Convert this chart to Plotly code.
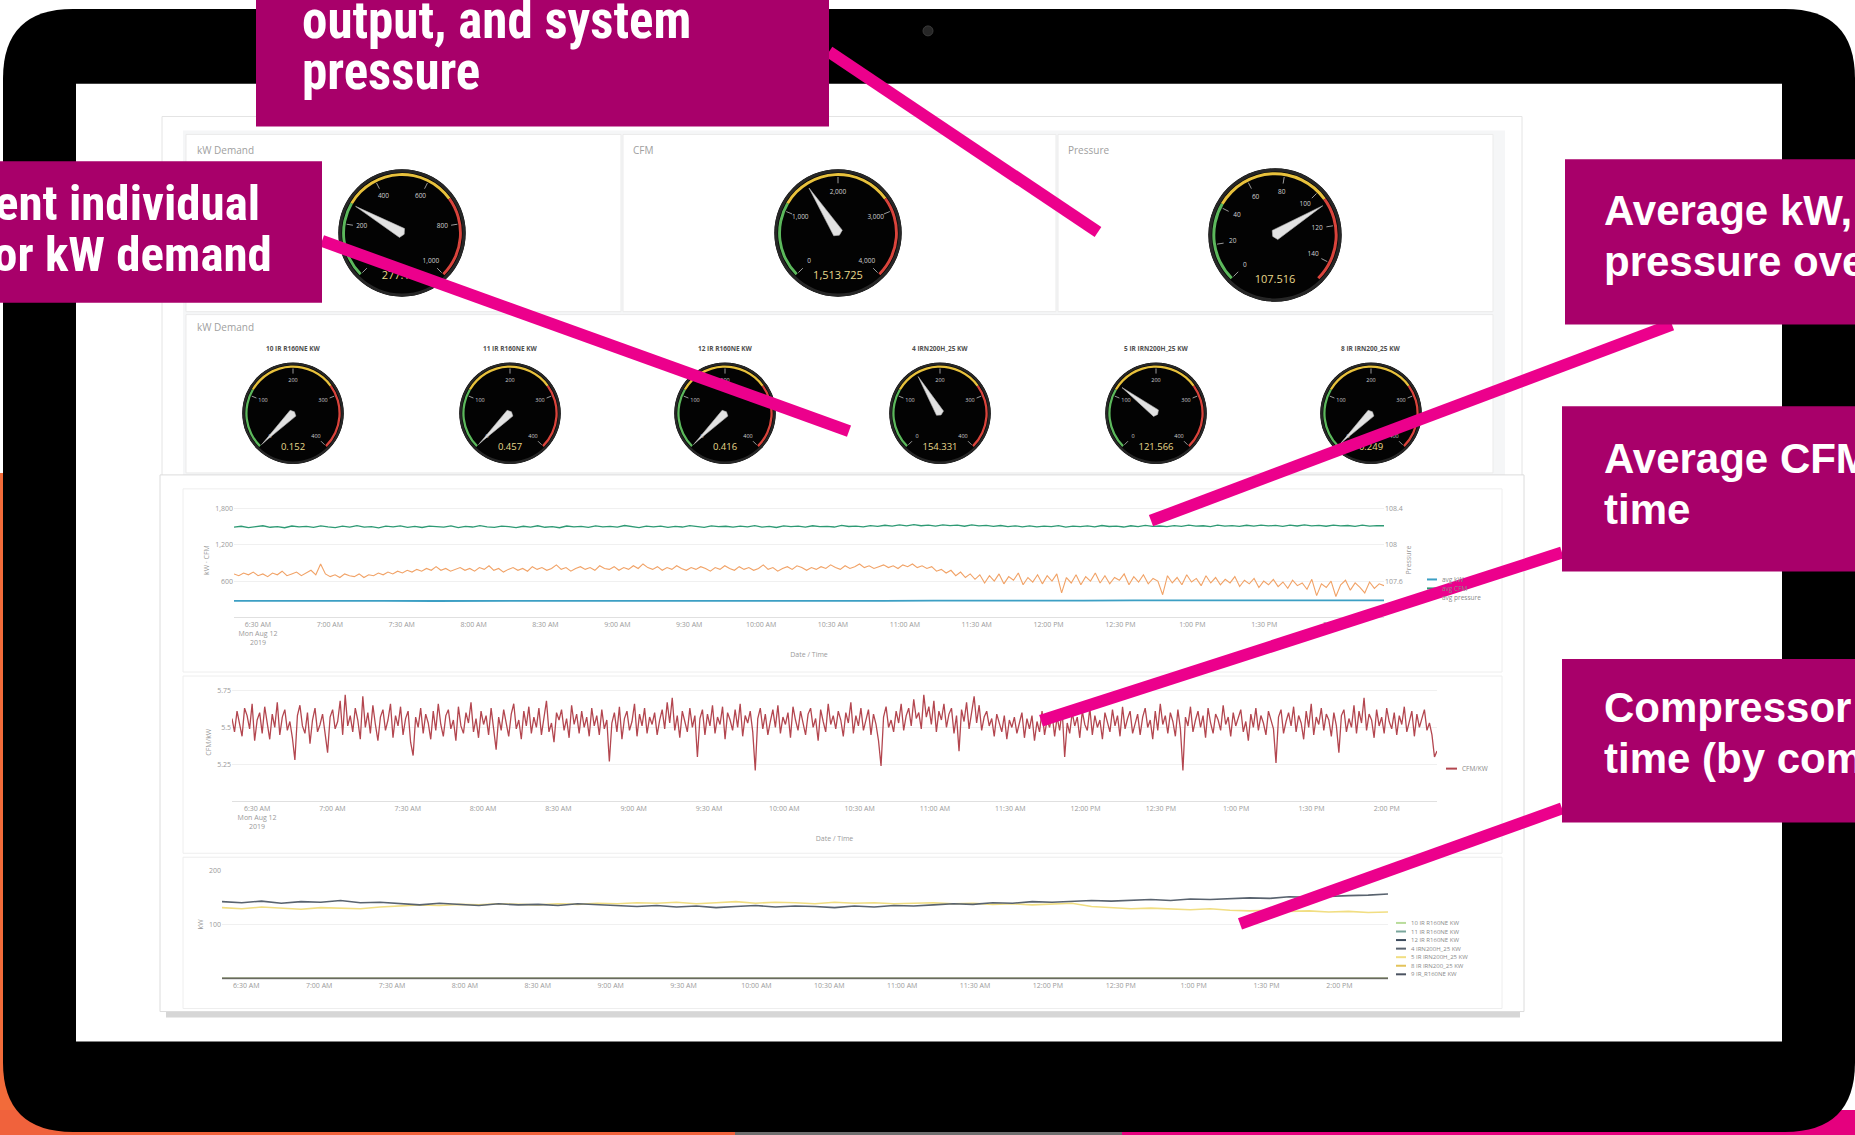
import pandas as pd
import plotly.graph_objects as go

W, H = 1855, 1135

# ---------------- data ----------------
BIG_GAUGE_TITLES = ["kW Demand", "CFM", "Pressure"]
BIG_GAUGE_VALUES = [277.171, 1513.725, 107.516]
BIG_GAUGE_MAX = [1000, 4000, 150]
BIG_GAUGE_TICKS = [[0, 200, 400, 600, 800, 1000],
                   [0, 1000, 2000, 3000, 4000],
                   [0, 20, 40, 60, 80, 100, 120, 140]]

SMALL_GAUGE_TITLES = ["10 IR R160NE KW", "11 IR R160NE KW", "12 IR R160NE KW",
                      "4 IRN200H_25 KW", "5 IR IRN200H_25 KW", "8 IR IRN200_25 KW"]
SMALL_GAUGE_VALUES = [0.152, 0.457, 0.416, 154.331, 121.566, 0.249]
SMALL_GAUGE_MAX = 400
SMALL_GAUGE_TICKS = [0, 100, 200, 300, 400]

GAUGE_BANDS = [(0.0, 0.28, "#5cb85c"), (0.28, 0.70, "#e8c13c"), (0.70, 1.0, "#d9443c")]

TIME_START = "2019-08-12 06:20"
TIME_END = "2019-08-12 14:20"
TICK_LABELS = ["6:30 AM", "7:00 AM", "7:30 AM", "8:00 AM", "8:30 AM", "9:00 AM", "9:30 AM",
               "10:00 AM", "10:30 AM", "11:00 AM", "11:30 AM", "12:00 PM", "12:30 PM",
               "1:00 PM", "1:30 PM", "2:00 PM"]
DATE_LINES = "Mon Aug 12<br>2019"

AVG_CFM = [
    1496, 1511, 1489, 1507, 1519, 1494, 1503, 1486, 1515, 1499,
    1508, 1491, 1517, 1501, 1488, 1512, 1496, 1522, 1497, 1505,
    1485, 1513, 1500, 1518, 1492, 1507, 1490, 1514, 1503, 1495,
    1516, 1487, 1509, 1498, 1521, 1500, 1492, 1513, 1504, 1489,
    1511, 1497, 1519, 1494, 1506, 1486, 1515, 1501, 1510, 1491,
    1518, 1499, 1508, 1495, 1523, 1502, 1488, 1514, 1499, 1512,
    1493, 1509, 1498, 1520, 1505, 1492, 1516, 1503, 1511, 1496,
    1514, 1500, 1522, 1497, 1508, 1490, 1517, 1504, 1512, 1495,
    1519, 1503, 1510, 1498, 1524, 1507, 1513, 1501, 1520, 1509,
    1527, 1512, 1533, 1516, 1538, 1519, 1530, 1514, 1535, 1521,
    1528, 1511, 1532, 1517, 1526, 1509, 1523, 1505, 1518, 1502,
    1516, 1499, 1513, 1504, 1521, 1496, 1512, 1506, 1517, 1501,
    1523, 1507, 1514, 1498, 1519, 1505, 1526, 1510, 1515, 1503,
    1521, 1508, 1528, 1512, 1519, 1504, 1530, 1514, 1522, 1509,
    1527, 1513, 1531, 1516, 1524, 1510, 1529, 1515, 1533, 1518,
    1525, 1511, 1530, 1517, 1523, 1509, 1528, 1514, 1521, 1519]

AVG_PRESSURE = [
    107.68, 107.66, 107.69, 107.67, 107.70, 107.66, 107.68, 107.65, 107.69, 107.67, 107.71, 107.66,
    107.68, 107.70, 107.66, 107.69, 107.72, 107.67, 107.79, 107.68, 107.65, 107.67, 107.64, 107.68,
    107.66, 107.65, 107.68, 107.64, 107.67, 107.66, 107.69, 107.67, 107.70, 107.68, 107.71, 107.69,
    107.72, 107.70, 107.73, 107.71, 107.74, 107.72, 107.76, 107.72, 107.74, 107.71, 107.73, 107.75,
    107.72, 107.74, 107.71, 107.75, 107.73, 107.77, 107.72, 107.74, 107.70, 107.73, 107.75, 107.72,
    107.74, 107.71, 107.76, 107.73, 107.75, 107.72, 107.74, 107.78, 107.73, 107.75, 107.71, 107.74,
    107.76, 107.73, 107.75, 107.72, 107.77, 107.74, 107.73, 107.76, 107.72, 107.75, 107.73, 107.77,
    107.74, 107.79, 107.75, 107.73, 107.76, 107.72, 107.75, 107.73, 107.77, 107.74, 107.72, 107.75,
    107.73, 107.76, 107.74, 107.71, 107.75, 107.73, 107.77, 107.74, 107.72, 107.76, 107.73, 107.75,
    107.72, 107.74, 107.78, 107.73, 107.75, 107.71, 107.74, 107.76, 107.73, 107.77, 107.75, 107.72,
    107.75, 107.73, 107.76, 107.74, 107.78, 107.75, 107.73, 107.77, 107.74, 107.76, 107.79, 107.75,
    107.77, 107.74, 107.76, 107.78, 107.75, 107.77, 107.74, 107.78, 107.76, 107.79, 107.75, 107.77,
    107.74, 107.76, 107.71, 107.73, 107.69, 107.72, 107.66, 107.70, 107.64, 107.68, 107.62, 107.67,
    107.58, 107.66, 107.60, 107.68, 107.57, 107.65, 107.61, 107.69, 107.56, 107.64, 107.59, 107.67,
    107.57, 107.66, 107.60, 107.68, 107.47, 107.64, 107.58, 107.67, 107.56, 107.65, 107.60, 107.69,
    107.58, 107.66, 107.57, 107.64, 107.61, 107.68, 107.56, 107.65, 107.59, 107.67, 107.57, 107.63,
    107.60, 107.45, 107.66, 107.58, 107.64, 107.56, 107.67, 107.59, 107.63, 107.55, 107.66, 107.58,
    107.64, 107.56, 107.62, 107.58, 107.65, 107.54, 107.61, 107.57, 107.63, 107.53, 107.60, 107.56,
    107.62, 107.54, 107.59, 107.52, 107.61, 107.55, 107.58, 107.51, 107.62, 107.44, 107.57, 107.53,
    107.60, 107.43, 107.56, 107.61, 107.50, 107.58, 107.53, 107.47, 107.59, 107.52, 107.57, 107.55]

AVG_KW = [272, 275, 271, 274, 270, 273, 272, 276, 271, 274, 273, 270,
          275, 272, 276, 274, 279, 277, 281, 279, 283, 280, 284, 282]

CFM_PER_KW = [
    5.56, 5.47, 5.61, 5.52, 5.44, 5.63, 5.58, 5.49, 5.66, 5.41, 5.55, 5.60,
    5.46, 5.64, 5.53, 5.42, 5.59, 5.50, 5.67, 5.45, 5.57, 5.62, 5.48, 5.54,
    5.43, 5.28, 5.58, 5.65, 5.51, 5.46, 5.60, 5.39, 5.55, 5.63, 5.47, 5.52,
    5.59, 5.44, 5.33, 5.57, 5.62, 5.49, 5.54, 5.68, 5.45, 5.72, 5.51, 5.58,
    5.47, 5.63, 5.55, 5.42, 5.71, 5.50, 5.60, 5.46, 5.65, 5.52, 5.41, 5.57,
    5.62, 5.48, 5.55, 5.66, 5.43, 5.58, 5.51, 5.64, 5.45, 5.56, 5.61, 5.40,
    5.31, 5.57, 5.50, 5.63, 5.46, 5.59, 5.53, 5.42, 5.61, 5.48, 5.66, 5.52,
    5.44, 5.58, 5.62, 5.49, 5.55, 5.41, 5.64, 5.51, 5.46, 5.60, 5.53, 5.67,
    5.47, 5.56, 5.43, 5.61, 5.52, 5.58, 5.45, 5.63, 5.50, 5.35, 5.57, 5.48,
    5.62, 5.54, 5.44, 5.59, 5.66, 5.49, 5.55, 5.42, 5.61, 5.51, 5.64, 5.46,
    5.57, 5.50, 5.63, 5.45, 5.58, 5.68, 5.47, 5.53, 5.40, 5.60, 5.55, 5.62,
    5.48, 5.56, 5.43, 5.65, 5.52, 5.59, 5.46, 5.61, 5.50, 5.57, 5.44, 5.63,
    5.51, 5.58, 5.45, 5.62, 5.49, 5.55, 5.27, 5.53, 5.60, 5.47, 5.64, 5.42,
    5.56, 5.61, 5.48, 5.54, 5.66, 5.44, 5.59, 5.51, 5.63, 5.46, 5.57, 5.52,
    5.60, 5.45, 5.55, 5.62, 5.49, 5.67, 5.53, 5.70, 5.48, 5.58, 5.43, 5.61,
    5.54, 5.47, 5.63, 5.50, 5.58, 5.30, 5.56, 5.62, 5.45, 5.59, 5.51, 5.65,
    5.46, 5.57, 5.52, 5.64, 5.42, 5.60, 5.55, 5.48, 5.62, 5.50, 5.66, 5.44,
    5.58, 5.53, 5.61, 5.47, 5.21, 5.56, 5.63, 5.49, 5.59, 5.45, 5.54, 5.62,
    5.50, 5.65, 5.46, 5.57, 5.52, 5.60, 5.43, 5.64, 5.55, 5.48, 5.61, 5.53,
    5.45, 5.59, 5.63, 5.50, 5.56, 5.41, 5.62, 5.54, 5.47, 5.66, 5.52, 5.58,
    5.49, 5.61, 5.55, 5.44, 5.60, 5.53, 5.67, 5.46, 5.58, 5.51, 5.63, 5.48,
    5.56, 5.62, 5.45, 5.59, 5.52, 5.41, 5.24, 5.57, 5.64, 5.50, 5.55, 5.47,
    5.61, 5.53, 5.66, 5.48, 5.58, 5.63, 5.51, 5.69, 5.56, 5.60, 5.49, 5.72,
    5.57, 5.64, 5.52, 5.68, 5.47, 5.61, 5.55, 5.66, 5.50, 5.59, 5.63, 5.46,
    5.58, 5.34, 5.62, 5.54, 5.67, 5.49, 5.60, 5.71, 5.53, 5.65, 5.48, 5.57,
    5.61, 5.51, 5.56, 5.44, 5.59, 5.52, 5.47, 5.58, 5.42, 5.55, 5.50, 5.57,
    5.46, 5.53, 5.60, 5.43, 5.56, 5.49, 5.58, 5.41, 5.54, 5.47, 5.61, 5.45,
    5.55, 5.50, 5.59, 5.44, 5.57, 5.48, 5.62, 5.30, 5.53, 5.46, 5.60, 5.51,
    5.57, 5.43, 5.61, 5.52, 5.48, 5.63, 5.45, 5.58, 5.50, 5.55, 5.42, 5.60,
    5.54, 5.47, 5.62, 5.51, 5.58, 5.44, 5.64, 5.49, 5.56, 5.61, 5.46, 5.53,
    5.59, 5.45, 5.57, 5.63, 5.50, 5.55, 5.42, 5.61, 5.48, 5.66, 5.52, 5.58,
    5.46, 5.60, 5.54, 5.44, 5.62, 5.49, 5.21, 5.57, 5.51, 5.64, 5.47, 5.55,
    5.61, 5.50, 5.58, 5.43, 5.63, 5.53, 5.46, 5.59, 5.55, 5.48, 5.65, 5.52,
    5.57, 5.44, 5.60, 5.51, 5.56, 5.62, 5.47, 5.54, 5.41, 5.59, 5.50, 5.63,
    5.48, 5.58, 5.53, 5.45, 5.61, 5.55, 5.49, 5.26, 5.57, 5.62, 5.46, 5.54,
    5.60, 5.51, 5.64, 5.47, 5.58, 5.53, 5.42, 5.61, 5.50, 5.66, 5.45, 5.57,
    5.52, 5.63, 5.48, 5.59, 5.55, 5.44, 5.60, 5.51, 5.33, 5.58, 5.62, 5.47,
    5.56, 5.50, 5.65, 5.46, 5.61, 5.53, 5.70, 5.48, 5.59, 5.55, 5.43, 5.62,
    5.51, 5.57, 5.46, 5.63, 5.54, 5.49, 5.60, 5.45, 5.58, 5.52, 5.64, 5.47,
    5.55, 5.61, 5.44, 5.59, 5.50, 5.56, 5.62, 5.48, 5.53, 5.45, 5.30, 5.34]

COMPRESSOR_NAMES = ["10 IR R160NE KW", "11 IR R160NE KW", "12 IR R160NE KW", "4 IRN200H_25 KW",
                    "5 IR IRN200H_25 KW", "8 IR IRN200_25 KW", "9 IR_R160NE KW"]
KW_10 = [0.15, 0.16, 0.14, 0.15, 0.15]
KW_11 = [0.46, 0.45, 0.47, 0.46, 0.46]
KW_12 = [0.42, 0.41, 0.42, 0.43, 0.42]
KW_4 = [142, 140, 143, 139, 142, 141, 144, 140, 141,
        138, 136, 139, 137, 135, 138, 136, 137, 135, 138, 136, 134,
        133, 135, 132, 134, 131, 133, 135, 132, 134, 133, 131, 134, 132, 135, 134,
        136, 138, 137, 140, 139, 142, 141, 143,
        144, 143, 145, 146, 144, 147, 146, 148,
        149, 148, 151, 150, 152, 153, 154, 156]
KW_5 = [131, 129, 132, 130, 128, 131, 130, 129, 132,
        134, 136, 135, 137, 136, 138, 137, 136, 138, 137, 139, 138,
        140, 139, 141, 138, 140, 142, 139, 141, 140, 138, 141, 139, 140, 138, 139,
        140, 138, 139, 137, 138, 136, 137, 139,
        133, 131, 129, 130, 128, 127, 129, 126,
        125, 126, 124, 125, 123, 124, 122, 123]
KW_8 = [0.25, 0.24, 0.26, 0.25, 0.25]
KW_9 = [0.21, 0.20, 0.22, 0.21, 0.21]
COMPRESSOR_SERIES = [KW_10, KW_11, KW_12, KW_4, KW_5, KW_8, KW_9]
COMPRESSOR_COLORS = ["#b9dc9b", "#7aa79c", "#3d4b5d", "#59636f", "#f1de82", "#e3c35a", "#4b5361"]

CALLOUT_TOP = ["output, and system", "pressure"]
CALLOUT_LEFT = ["ent individual", "or kW demand"]
CALLOUT_RIGHT = [["Average kW, CFM, and", "pressure over time"],
                 ["Average CFM/kW over", "time"],
                 ["Compressor kW over", "time (by compressor)"]]

# ---------------- helpers ----------------
def X(px):
    return px / W


def Y(py):
    return 1 - py / H


FONT = "Open Sans, Lato, sans-serif"
NARROW = "Liberation Sans Narrow, Arial Narrow, Roboto Condensed, Liberation Sans, sans-serif"
WIDE = "Liberation Sans, Arial, sans-serif"
MAGENTA = "#a8006a"
PINK = "#ec008c"

fig = go.Figure()
shapes = []
annotations = []


def rect(x0, y0, x1, y1, fill, line=None, lw=0, layer="below"):
    shapes.append(dict(type="rect", xref="paper", yref="paper", x0=X(x0), x1=X(x1),
                       y0=Y(y1), y1=Y(y0), fillcolor=fill,
                       line=dict(color=line or fill, width=lw), layer=layer))


def rounded(x0, y0, x1, y1, r, fill, layer="below"):
    p = (f"M {X(x0 + r)},{Y(y0)} L {X(x1 - r)},{Y(y0)} Q {X(x1)},{Y(y0)} {X(x1)},{Y(y0 + r)} "
         f"L {X(x1)},{Y(y1 - r)} Q {X(x1)},{Y(y1)} {X(x1 - r)},{Y(y1)} "
         f"L {X(x0 + r)},{Y(y1)} Q {X(x0)},{Y(y1)} {X(x0)},{Y(y1 - r)} "
         f"L {X(x0)},{Y(y0 + r)} Q {X(x0)},{Y(y0)} {X(x0 + r)},{Y(y0)} Z")
    shapes.append(dict(type="path", xref="paper", yref="paper", path=p, fillcolor=fill,
                       line=dict(width=0), layer=layer))


def seg(x0, y0, x1, y1, color, width, layer="above"):
    shapes.append(dict(type="line", xref="paper", yref="paper", x0=X(x0), y0=Y(y0),
                       x1=X(x1), y1=Y(y1), line=dict(color=color, width=width), layer=layer))


def text(x, y, s, size, color, family=FONT, xanchor="left", yanchor="middle"):
    annotations.append(dict(x=X(x), y=Y(y), xref="paper", yref="paper", text=s, showarrow=False,
                            xanchor=xanchor, yanchor=yanchor,
                            font=dict(size=size, color=color, family=family)))


# ---------------- device frame / background ----------------
rect(0, 470, 40, 1135, "#f26b3a")
rect(0, 1110, 735, 1135, "#f0623c")
rect(735, 1110, 1122, 1135, "#6f6f6f")
rect(1122, 1110, 1855, 1135, "#e5007e")
rounded(3, 4, 1855, 1132, 70, "#000000")
shapes.append(dict(type="circle", xref="paper", yref="paper", x0=X(923), x1=X(933), y0=Y(31), y1=Y(21),
                   fillcolor="#262626", line=dict(color="#3a3a3a", width=1), layer="below"))
rect(76, 79, 1782, 1041, "#ffffff")

# gauge card
rect(166, 1011, 1520, 1017, "#d6d6d6")
rect(162, 112, 1522, 478, "#ffffff", "#e4e4e4", 1)
rect(183, 126, 1505, 472, "#f5f6f7")
rect(186, 130, 621, 308, "#ffffff", "#ebebeb", 1)
rect(623, 130, 1056, 308, "#ffffff", "#ebebeb", 1)
rect(1058, 130, 1493, 308, "#ffffff", "#ebebeb", 1)
rect(186, 311, 1493, 470, "#ffffff", "#ebebeb", 1)
# chart card
rect(160, 472, 1524, 1011, "#ffffff", "#dcdcdc", 1)
rect(183, 486, 1502, 670, "#ffffff", "#eeeeee", 1)
rect(183, 674, 1502, 852, "#ffffff", "#eeeeee", 1)
rect(183, 856, 1502, 1008, "#ffffff", "#eeeeee", 1)

# ---------------- gauges ----------------
def add_gauge(idx, value, vmax, ticks, cx, cy, r, tick_size, value_size):
    sub = "polar" if idx == 1 else f"polar{idx}"

    def th(v):
        return 225 - 270 * v / vmax

    fig.add_trace(go.Barpolar(r=[0.05], base=[0.95], theta=[90], width=[360],
                              marker=dict(color="#262626", line=dict(width=0)),
                              subplot=sub, hoverinfo="skip", showlegend=False))
    for f0, f1, col in GAUGE_BANDS:
        t0, t1 = th(f0 * vmax), th(f1 * vmax)
        fig.add_trace(go.Barpolar(r=[0.045], base=[0.895], theta=[(t0 + t1) / 2], width=[t0 - t1],
                                  marker=dict(color=col, line=dict(width=0)),
                                  subplot=sub, hoverinfo="skip", showlegend=False))
    rr, tt = [], []
    for v in ticks:
        rr += [0.78, 0.88, None]
        tt += [th(v), th(v), None]
    fig.add_trace(go.Scatterpolar(r=rr, theta=tt, mode="lines", line=dict(color="#9a9a9a", width=1),
                                  subplot=sub, hoverinfo="skip", showlegend=False))
    fig.add_trace(go.Scatterpolar(r=[0.64] * len(ticks), theta=[th(v) for v in ticks], mode="text",
                                  text=[f"{v:,}" for v in ticks],
                                  textfont=dict(size=tick_size, color="#d0d0d0", family=FONT),
                                  subplot=sub, hoverinfo="skip", showlegend=False))
    a = th(value)
    fig.add_trace(go.Scatterpolar(r=[0.08, 0.84, 0.08, 0.04, 0.08], theta=[a + 90, a, a - 90, a + 180, a + 90],
                                  mode="lines", fill="toself", fillcolor="#e2e2e2",
                                  line=dict(color="#b8b8b8", width=0.6),
                                  subplot=sub, hoverinfo="skip", showlegend=False))
    fig.add_trace(go.Scatterpolar(r=[0.68], theta=[270], mode="text", text=[f"{value:,.3f}"],
                                  textfont=dict(size=value_size, color="#e8d98c", family=FONT),
                                  subplot=sub, hoverinfo="skip", showlegend=False))
    fig.update_layout({sub: dict(
        domain=dict(x=[X(cx - r), X(cx + r)], y=[Y(cy + r), Y(cy - r)]),
        bgcolor="#030303", hole=0,
        radialaxis=dict(visible=False, range=[0, 1]),
        angularaxis=dict(visible=False, rotation=0, direction="counterclockwise"))})


big_pos = [(402, 229, 64), (838, 229, 64), (1275, 231, 67)]
for i, (cx, cy, r) in enumerate(big_pos):
    add_gauge(i + 1, BIG_GAUGE_VALUES[i], BIG_GAUGE_MAX[i], BIG_GAUGE_TICKS[i], cx, cy, r, 6.5, 11)
panel_title_x = [195, 631, 1066]
for i, t in enumerate(BIG_GAUGE_TITLES):
    text(panel_title_x[i], 146, t, 10, "#a0a0a0")
text(195, 323, "kW Demand", 10, "#a0a0a0")

small_x = [293, 510, 725, 940, 1156, 1371]
for i, t in enumerate(SMALL_GAUGE_TITLES):
    add_gauge(4 + i, SMALL_GAUGE_VALUES[i], SMALL_GAUGE_MAX, SMALL_GAUGE_TICKS, small_x[i], 410, 51, 5.5, 9.5)
    text(small_x[i], 345, f"<b>{t}</b>", 6.5, "#505050", xanchor="center")

# ---------------- time-series charts ----------------
def times(vals):
    return pd.date_range(TIME_START, TIME_END, periods=len(vals))


tickvals = pd.date_range("2019-08-12 06:30", periods=len(TICK_LABELS), freq="30min")
ticktext_date = [TICK_LABELS[0] + "<br>" + DATE_LINES] + TICK_LABELS[1:]

C_KW, C_CFM, C_PRES = "#3c9fc4", "#2e9a74", "#f1a266"

fig.add_trace(go.Scatter(x=times(AVG_KW), y=AVG_KW, mode="lines", line=dict(color=C_KW, width=1.8),
                         xaxis="x", yaxis="y", showlegend=False, hoverinfo="skip"))
fig.add_trace(go.Scatter(x=times(AVG_CFM), y=AVG_CFM, mode="lines", line=dict(color=C_CFM, width=1.3),
                         xaxis="x", yaxis="y", showlegend=False, hoverinfo="skip"))
fig.add_trace(go.Scatter(x=times(AVG_PRESSURE), y=AVG_PRESSURE, mode="lines",
                         line=dict(color=C_PRES, width=1.1),
                         xaxis="x", yaxis="y2", showlegend=False, hoverinfo="skip"))

fig.add_trace(go.Scatter(x=times(CFM_PER_KW), y=CFM_PER_KW, mode="lines", line=dict(color="#b3464f", width=1.3),
                         xaxis="x2", yaxis="y3", showlegend=False, hoverinfo="skip"))

order = [0, 1, 2, 5, 6, 4, 3]
for k in order:
    vals = COMPRESSOR_SERIES[k]
    fig.add_trace(go.Scatter(x=times(vals), y=vals, mode="lines",
                             line=dict(color=COMPRESSOR_COLORS[k], width=1.6),
                             xaxis="x3", yaxis="y4", showlegend=False, hoverinfo="skip"))

tick_font = dict(size=7, color="#9a9a9a", family=FONT)
title_font = dict(size=7, color="#9a9a9a", family=FONT)
xcommon = dict(type="date", range=[TIME_START, TIME_END], tickmode="array", tickvals=tickvals,
               showgrid=False, showline=True, linecolor="#e0e0e0", linewidth=1, ticks="",
               tickfont=tick_font, zeroline=False, tickangle=0)
ycommon = dict(showgrid=True, gridcolor="#f0f0f0", zeroline=False, showline=False, ticks="",
               tickfont=tick_font)

fig.update_layout(
    xaxis=dict(xcommon, domain=[X(234), X(1384)], anchor="y", ticktext=ticktext_date,
               title=dict(text="Date / Time", font=title_font, standoff=6)),
    yaxis=dict(ycommon, domain=[Y(615), Y(500)], anchor="x", range=[0, 1900],
               tickvals=[600, 1200, 1800], ticktext=["600", "1,200", "1,800"],
               title=dict(text="kW · CFM", font=title_font, standoff=4)),
    yaxis2=dict(ycommon, overlaying="y", side="right", anchor="x", range=[107.2, 108.4667],
                showgrid=False, tickvals=[107.6, 108.0, 108.4], ticktext=["107.6", "108", "108.4"],
                title=dict(text="Pressure", font=title_font, standoff=4)),
    xaxis2=dict(xcommon, domain=[X(232), X(1437)], anchor="y3", ticktext=ticktext_date,
                title=dict(text="Date / Time", font=title_font, standoff=6)),
    yaxis3=dict(ycommon, domain=[Y(800), Y(681)], anchor="x2", range=[5.0, 5.8],
                tickvals=[5.25, 5.5, 5.75], ticktext=["5.25", "5.5", "5.75"],
                title=dict(text="CFM/kW", font=title_font, standoff=4)),
    xaxis3=dict(xcommon, domain=[X(222), X(1388)], anchor="y4", ticktext=TICK_LABELS),
    yaxis4=dict(ycommon, domain=[Y(978), Y(869)], anchor="x3", range=[0, 200],
                tickvals=[100, 200], ticktext=["100", "200"],
                title=dict(text="kW", font=title_font, standoff=4)),
)

# manual legends
leg1 = [("avg kW", C_KW), ("avg CFM", C_CFM), ("avg pressure", C_PRES)]
for k, (name, col) in enumerate(leg1):
    yy = 577 + 9 * k
    seg(1427, yy, 1437, yy, col, 2, layer="below")
    text(1440, yy, name, 6.5, "#8a8a8a")
seg(1446, 767, 1457, 767, "#b3464f", 2, layer="below")
text(1460, 767, "CFM/KW", 6.5, "#8a8a8a")
for k, name in enumerate(COMPRESSOR_NAMES):
    yy = 922 + 8.6 * k
    seg(1396, yy, 1406, yy, COMPRESSOR_COLORS[k], 2, layer="below")
    text(1409, yy, name, 6, "#8a8a8a")

# ---------------- callouts ----------------
seg(829, 47, 1098, 228, PINK, 12)
seg(322, 237, 849, 428, PINK, 12)
seg(1672, 321, 1151, 518, PINK, 12)
seg(1562, 550, 1041, 719, PINK, 12)
seg(1562, 807, 1240, 923, PINK, 12)

rect(256, -5, 829, 122, MAGENTA, layer="above")
rect(-5, 157, 322, 299, MAGENTA, layer="above")
right_boxes = [(1565, 155, 321), (1562, 403, 569), (1562, 657, 821)]
for x0, y0, y1 in right_boxes:
    rect(x0, y0, 1860, y1, MAGENTA, layer="above")

text(300, 16, f"<b>{CALLOUT_TOP[0]}</b>", 51, "#ffffff", NARROW)
text(300, 67, f"<b>{CALLOUT_TOP[1]}</b>", 51, "#ffffff", NARROW)
text(262, 199, f"<b>{CALLOUT_LEFT[0]}</b>", 49, "#ffffff", NARROW, xanchor="right")
text(274, 251, f"<b>{CALLOUT_LEFT[1]}</b>", 49, "#ffffff", NARROW, xanchor="right")
right_lines_y = [(206, 258), (456, 507), (706, 757)]
for (l1, l2), (ya, yb) in zip(CALLOUT_RIGHT, right_lines_y):
    text(1602, ya, f"<b>{l1}</b>", 42, "#ffffff", WIDE)
    text(1602, yb, f"<b>{l2}</b>", 42, "#ffffff", WIDE)

fig.update_layout(width=W, height=H, autosize=False, margin=dict(l=0, r=0, t=0, b=0),
                  paper_bgcolor="#ffffff", plot_bgcolor="rgba(0,0,0,0)", hovermode=False,
                  showlegend=False, shapes=shapes, annotations=annotations,
                  font=dict(family=FONT))

fig.write_html("out.html", config={"displayModeBar": False, "staticPlot": True},
               post_script="document.body.style.margin='0px';document.body.style.overflow='hidden';")
